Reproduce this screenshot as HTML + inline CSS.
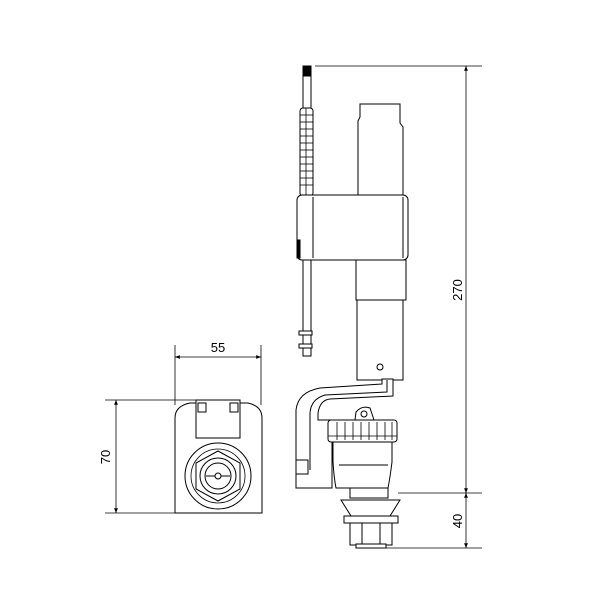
<!DOCTYPE html>
<html><head><style>html,body{margin:0;padding:0;background:#fff}svg{display:block}</style></head>
<body>
<svg width="600" height="600" viewBox="0 0 600 600" xmlns="http://www.w3.org/2000/svg" font-family="Liberation Sans, sans-serif">
<defs>
<marker id="a" viewBox="0 0 10 10" refX="10" refY="5" markerWidth="6" markerHeight="6" orient="auto-start-reverse"><path d="M0,1 L10,5 L0,9z" fill="#000"/></marker>
</defs>
<g stroke="#000" stroke-width="0.8" fill="none">
<!-- dimensions main -->
<line x1="315" y1="66" x2="482" y2="66"/>
<line x1="466" y1="66" x2="466" y2="493" marker-start="url(#a)" marker-end="url(#a)"/>
<line x1="398" y1="493" x2="482" y2="493"/>
<line x1="385" y1="548" x2="482" y2="548"/>
<line x1="466" y1="493" x2="466" y2="548" marker-start="url(#a)" marker-end="url(#a)"/>
<!-- left dims -->
<line x1="175" y1="345" x2="175" y2="405"/>
<line x1="261" y1="345" x2="261" y2="405"/>
<line x1="175" y1="357" x2="261" y2="357" marker-start="url(#a)" marker-end="url(#a)"/>
<line x1="105" y1="400" x2="240" y2="400"/>
<line x1="105" y1="513" x2="215" y2="513"/>
<line x1="116" y1="400" x2="116" y2="513" marker-start="url(#a)" marker-end="url(#a)"/>
</g>
<g font-size="13" fill="#000">
<text x="218" y="352" text-anchor="middle">55</text>
<text transform="translate(110,457) rotate(-90)" text-anchor="middle">70</text>
<text transform="translate(462,290) rotate(-90)" text-anchor="middle">270</text>
<text transform="translate(462,521) rotate(-90)" text-anchor="middle">40</text>
</g>
<g stroke="#000" stroke-width="1" fill="#fff">
<!-- rod -->
<rect x="303" y="66" width="8" height="290"/>
<rect x="303" y="66" width="8" height="10" fill="#000"/>
<rect x="300" y="108" width="13" height="88" rx="3" fill="#fff"/>
<g stroke-width="0.8">
<line x1="300" y1="115" x2="313" y2="115"/><line x1="300" y1="122" x2="313" y2="122"/><line x1="300" y1="129" x2="313" y2="129"/><line x1="300" y1="136" x2="313" y2="136"/><line x1="300" y1="143" x2="313" y2="143"/><line x1="300" y1="150" x2="313" y2="150"/><line x1="300" y1="157" x2="313" y2="157"/><line x1="300" y1="164" x2="313" y2="164"/><line x1="300" y1="171" x2="313" y2="171"/><line x1="300" y1="178" x2="313" y2="178"/><line x1="300" y1="185" x2="313" y2="185"/>
<line x1="306" y1="108" x2="306" y2="196"/>
</g>
<rect x="299" y="331" width="13" height="4"/><rect x="299" y="344" width="13" height="4"/>
<!-- tube -->
<path d="M358,195 V121 L360,117 V104 H400 V123 L403,127 V195"/>
<rect x="356" y="260" width="50" height="40"/>
<rect x="357" y="300" width="46" height="80"/>
<circle cx="380" cy="367" r="3"/>
<!-- box -->
<rect x="297" y="195" width="111" height="65" rx="5"/>
<line x1="313" y1="197" x2="313" y2="258"/>
<line x1="403" y1="197" x2="403" y2="258"/>
<rect x="297" y="240" width="3" height="18" fill="#000"/>
<!-- arm -->
<path d="M382,379 V384 L320,388 Q298,392 296,410 V488 H332 V420 H318 V413 Q320,400 330,399 L393,396 V379 Z"/>
<path d="M387,380 V392 L325,395 Q311,399 310,413 V470" fill="none"/>
<rect x="296" y="460" width="12" height="14"/>
<!-- float clip -->
<path d="M355,420 L356,412 Q362,405 370,408 L374,420" />
<circle cx="364" cy="414" r="3"/>
<!-- nut -->
<rect x="328" y="420" width="69" height="22" rx="3"/>
<g stroke-width="0.8">
<line x1="337" y1="422" x2="337" y2="440"/><line x1="345" y1="422" x2="345" y2="440"/><line x1="353" y1="422" x2="353" y2="440"/><line x1="361" y1="422" x2="361" y2="440"/><line x1="369" y1="422" x2="369" y2="440"/><line x1="377" y1="422" x2="377" y2="440"/><line x1="385" y1="422" x2="385" y2="440"/><line x1="392" y1="422" x2="392" y2="440"/>
<line x1="328" y1="436" x2="397" y2="436"/>
</g>
<path d="M333,442 H392 V462 Q390,478 388,488 H336 Q334,478 333,462 Z"/>
<line x1="339" y1="465" x2="388" y2="465"/>
<rect x="350" y="488" width="38" height="10"/>
<path d="M341,500 H400 L390,516 H351 Z"/>
<rect x="344" y="516" width="54" height="7"/>
<rect x="350" y="523" width="42" height="22"/>
<line x1="362" y1="523" x2="362" y2="545"/><line x1="380" y1="523" x2="380" y2="545"/>
<rect x="356" y="544" width="30" height="4"/>
<!-- left view -->
<path d="M175,513 V418 Q175,406 190,403 H248 Q262,406 262,418 V513 Z"/>
<rect x="196" y="400" width="44" height="38"/>
<rect x="198" y="403" width="8" height="9"/><rect x="230" y="403" width="8" height="9"/>
<circle cx="218" cy="476" r="33"/>
<circle cx="218" cy="476" r="27" stroke-width="0.8"/>
<polygon points="218,451 240,463 240,489 218,501 196,489 196,463"/>
<circle cx="218" cy="476" r="18"/>
<circle cx="218" cy="476" r="13"/>
<path d="M206,476 H230" fill="none"/>
<circle cx="218" cy="476" r="3"/>
</g>
</svg>
</body></html>
